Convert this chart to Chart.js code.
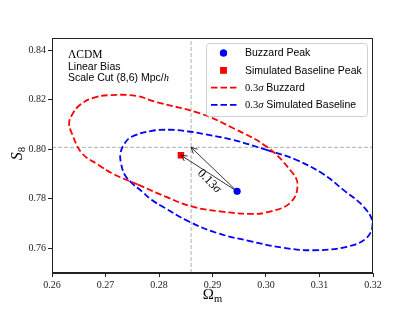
<!DOCTYPE html>
<html>
<head>
<meta charset="utf-8">
<script src="https://cdn.jsdelivr.net/npm/chart.js@4.4.0/dist/chart.umd.min.js"></script>
<style>
  html, body { margin: 0; padding: 0; background: #fff; }
</style>
</head>
<body>
<canvas id="contours" width="415" height="312"></canvas>
<script>
  // axis ticks
  const xTicks = [0.26, 0.27, 0.28, 0.29, 0.30, 0.31, 0.32];
  const yTicks = [0.76, 0.78, 0.80, 0.82, 0.84];

  // 0.3 sigma contour, Buzzard
  const buzzardX = [0.2761, 0.2811, 0.2861, 0.2914, 0.2970, 0.3001, 0.3045, 0.3059, 0.3045, 0.3001,
                    0.2939, 0.2877, 0.2793, 0.2758, 0.2708, 0.2677, 0.2652, 0.2637, 0.2632, 0.2637,
                    0.2656, 0.2687, 0.2715, 0.2761];
  const buzzardY = [0.7857, 0.7810, 0.7769, 0.7749, 0.7739, 0.7745, 0.7783, 0.7857, 0.7917, 0.8011,
                    0.8085, 0.8145, 0.8192, 0.8216, 0.8219, 0.8208, 0.8179, 0.8138, 0.8105, 0.8065,
                    0.7984, 0.7937, 0.7900, 0.7857];

  // 0.3 sigma contour, simulated baseline
  const baselineX = [0.3001, 0.3057, 0.3107, 0.3144, 0.3182, 0.3199, 0.3188, 0.3151, 0.3088, 0.3032,
                     0.2970, 0.2908, 0.2855, 0.2811, 0.2786, 0.2768, 0.2749, 0.2736, 0.2729, 0.2728,
                     0.2736, 0.2749, 0.2785, 0.2820, 0.2855, 0.2886, 0.2939, 0.3001];
  const baselineY = [0.7998, 0.7957, 0.7900, 0.7837, 0.7769, 0.7703, 0.7642, 0.7606, 0.7592, 0.7602,
                     0.7629, 0.7662, 0.7709, 0.7763, 0.7796, 0.7830, 0.7864, 0.7897, 0.7944, 0.7984,
                     0.8025, 0.8051, 0.8074, 0.8079, 0.8072, 0.8061, 0.8038, 0.7998];

  // peaks and fiducial cosmology [Omega_m, S8]
  const buzzardPeak = [0.2946, 0.7830];
  const baselinePeak = [0.2841, 0.7976];
  const fiducial = [0.2860, 0.8008];
  const shiftSigma = '0.13';

  const xRange = [0.26, 0.32];
  const yRange = [0.75, 0.845];

  const SANS = '"Liberation Sans", Arial, sans-serif';
  const SERIF = '"Liberation Serif", "Times New Roman", serif';

  function zip(xs, ys) {
    return xs.map(function(v, i) { return {x: v, y: ys[i]}; });
  }

  // draw a run of text pieces with different fonts
  function drawParts(ctx, parts, x, y) {
    var cx = x;
    parts.forEach(function(p) {
      ctx.font = p.font;
      ctx.fillText(p.t, cx, y + (p.dy || 0));
      cx += ctx.measureText(p.t).width;
    });
    return cx - x;
  }
  function partsWidth(ctx, parts) {
    var w = 0;
    parts.forEach(function(p) { ctx.font = p.font; w += ctx.measureText(p.t).width; });
    return w;
  }

  function arrowHead(ctx, x0, y0, x1, y1) {
    var a = Math.atan2(y1 - y0, x1 - x0), len = 6, half = 3;
    ctx.beginPath();
    ctx.moveTo(x1 - len * Math.cos(a) + half * Math.sin(a), y1 - len * Math.sin(a) - half * Math.cos(a));
    ctx.lineTo(x1, y1);
    ctx.lineTo(x1 - len * Math.cos(a) - half * Math.sin(a), y1 - len * Math.sin(a) + half * Math.cos(a));
    ctx.stroke();
  }

  function mathLabel(label) {
    // "0.3σ Buzzard" -> serif math part + sans rest
    var m = label.match(/^([0-9.]+)σ (.*)$/);
    if (!m) return [{t: label, font: '10.5px ' + SANS}];
    return [
      {t: m[1], font: '10.5px ' + SERIF},
      {t: 'σ', font: 'italic 10.5px ' + SERIF},
      {t: ' ' + m[2], font: '10.5px ' + SANS}
    ];
  }

  const decor = {
    id: 'decor',
    afterDatasetsDraw: function(chart) {
      var ctx = chart.ctx, x = chart.scales.x, y = chart.scales.y;
      var bx = x.getPixelForValue(buzzardPeak[0]), by = y.getPixelForValue(buzzardPeak[1]);
      ctx.save();
      ctx.strokeStyle = '#000';
      ctx.lineWidth = 0.8;
      [baselinePeak, fiducial].forEach(function(t) {
        arrowHead(ctx, bx, by, x.getPixelForValue(t[0]), y.getPixelForValue(t[1]));
      });
      // shift label along the arrows
      ctx.translate(x.getPixelForValue(0.2894), y.getPixelForValue(0.7871));
      ctx.rotate(45 * Math.PI / 180);
      ctx.fillStyle = '#000';
      ctx.textBaseline = 'middle';
      var parts = [{t: shiftSigma, font: '12.5px ' + SERIF}, {t: 'σ', font: 'italic 12.5px ' + SERIF}];
      drawParts(ctx, parts, -partsWidth(ctx, parts) / 2, 0);
      ctx.restore();
    },
    afterDraw: function(chart) {
      var ctx = chart.ctx, a = chart.chartArea;
      ctx.save();
      // full frame
      ctx.strokeStyle = '#222';
      ctx.lineWidth = 1;
      ctx.strokeRect(a.left + 0.5, a.top + 0.5, a.right - a.left - 1, a.bottom - a.top - 1);

      // text block, top left
      ctx.fillStyle = '#000';
      ctx.textBaseline = 'alphabetic';
      var tx = a.left + 16;
      drawParts(ctx, [{t: 'ΛCDM', font: '11.5px ' + SERIF}], tx, a.top + 20);
      drawParts(ctx, [{t: 'Linear Bias', font: '10.5px ' + SANS}], tx, a.top + 31.5);
      drawParts(ctx, [{t: 'Scale Cut (8,6) Mpc/', font: '10.5px ' + SANS},
                      {t: 'h', font: 'italic 10.5px ' + SERIF}], tx, a.top + 43);

      // legend
      var lx = a.right - 167, ly = a.top + 5, lw = 161, lh = 73;
      ctx.beginPath();
      ctx.roundRect(lx + 0.5, ly + 0.5, lw, lh, 3);
      ctx.fillStyle = 'rgba(255,255,255,0.8)';
      ctx.fill();
      ctx.strokeStyle = '#d0d0d0';
      ctx.stroke();
      var row = 0;
      chart.data.datasets.forEach(function(ds) {
        if (!ds.label) return;
        var cy = ly + 10 + row * 17.3, hx = lx + 17.5;
        ctx.save();
        if (ds.showLine) {
          ctx.strokeStyle = ds.borderColor;
          ctx.lineWidth = ds.borderWidth;
          ctx.setLineDash(ds.borderDash);
          ctx.beginPath();
          ctx.moveTo(lx + 5, cy);
          ctx.lineTo(lx + 31, cy);
          ctx.stroke();
        } else {
          ctx.fillStyle = ds.backgroundColor;
          Chart.helpers.drawPoint(ctx, {pointStyle: ds.pointStyle, radius: ds.pointRadius, borderWidth: 0}, hx, cy);
          ctx.fill();
        }
        ctx.restore();
        ctx.fillStyle = '#000';
        ctx.textBaseline = 'middle';
        drawParts(ctx, mathLabel(ds.label), lx + 39, cy + 0.5);
        row++;
      });

      // axis titles
      ctx.fillStyle = '#000';
      ctx.textBaseline = 'alphabetic';
      var om = [{t: 'Ω', font: '15px ' + SERIF}, {t: 'm', font: '10.5px ' + SERIF, dy: 3}];
      drawParts(ctx, om, (a.left + a.right) / 2 - partsWidth(ctx, om) / 2, 299);
      ctx.translate(22, (a.top + a.bottom) / 2 - 2);
      ctx.rotate(-Math.PI / 2);
      var s8 = [{t: 'S', font: 'italic 16px ' + SERIF}, {t: '8', font: '11px ' + SERIF, dy: 3}];
      drawParts(ctx, s8, -partsWidth(ctx, s8) / 2, 0);
      ctx.restore();
    }
  };

  function axis(range, ticks, fit) {
    return {
      type: 'linear',
      min: range[0],
      max: range[1],
      afterBuildTicks: function(s) { s.ticks = ticks.map(function(v) { return {value: v}; }); },
      afterFit: fit,
      grid: {display: true, drawOnChartArea: false, drawTicks: true, tickLength: 4, color: '#222', lineWidth: 1},
      border: {display: true, color: '#222', width: 1},
      ticks: {
        color: '#222',
        padding: 2,
        maxRotation: 0,
        autoSkip: false,
        font: {family: SERIF, size: 10},
        callback: function(v) { return Number(v).toFixed(2); }
      }
    };
  }

  const dashed = {showLine: true, pointRadius: 0, borderWidth: 1.8, borderDash: [6.5, 3], tension: 0.4, fill: false};

  new Chart(document.getElementById('contours'), {
    type: 'scatter',
    data: {
      datasets: [
        {label: 'Buzzard Peak', data: [{x: buzzardPeak[0], y: buzzardPeak[1]}],
         pointStyle: 'circle', pointRadius: 3.6, backgroundColor: '#0000ff', borderWidth: 0},
        {label: 'Simulated Baseline Peak', data: [{x: baselinePeak[0], y: baselinePeak[1]}],
         pointStyle: 'rect', pointRadius: 4.6, backgroundColor: '#ff0000', borderWidth: 0},
        Object.assign({label: '0.3σ Buzzard', data: zip(buzzardX, buzzardY), borderColor: '#ff0000'}, dashed),
        Object.assign({label: '0.3σ Simulated Baseline', data: zip(baselineX, baselineY), borderColor: '#0000ff'}, dashed),
        // arrows from the Buzzard peak
        {data: [{x: buzzardPeak[0], y: buzzardPeak[1]}, {x: baselinePeak[0], y: baselinePeak[1]}],
         showLine: true, pointRadius: 0, borderColor: '#000', borderWidth: 0.8},
        {data: [{x: buzzardPeak[0], y: buzzardPeak[1]}, {x: fiducial[0], y: fiducial[1]}],
         showLine: true, pointRadius: 0, borderColor: '#000', borderWidth: 0.8},
        // fiducial cross-hair
        {data: [{x: fiducial[0], y: yRange[0]}, {x: fiducial[0], y: yRange[1]}],
         showLine: true, pointRadius: 0, borderColor: '#b0b0b0', borderWidth: 1, borderDash: [4, 2]},
        {data: [{x: xRange[0], y: fiducial[1]}, {x: xRange[1], y: fiducial[1]}],
         showLine: true, pointRadius: 0, borderColor: '#b0b0b0', borderWidth: 1, borderDash: [4, 2]}
      ]
    },
    options: {
      responsive: false,
      animation: false,
      devicePixelRatio: 1,
      layout: {padding: {left: 0, top: 38, right: 42, bottom: 0}},
      plugins: {legend: {display: false}, tooltip: {enabled: false}},
      scales: {
        x: axis(xRange, xTicks, function(s) { s.height = 39; }),
        y: axis(yRange, yTicks, function(s) { s.width = 52; })
      }
    },
    plugins: [decor]
  });
</script>
</body>
</html>
